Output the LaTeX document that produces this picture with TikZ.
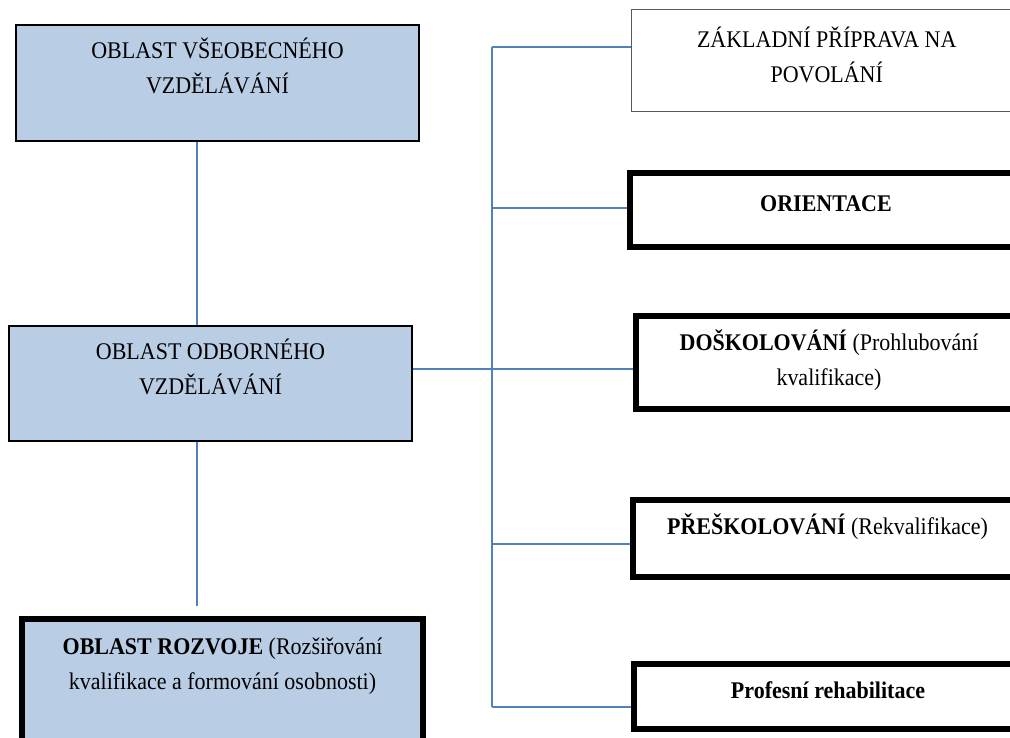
\documentclass[tikz,border=0pt]{standalone}
\usepackage{fontspec}
\setmainfont{Liberation Serif}[FakeStretch=0.92]
\definecolor{areafill}{HTML}{B9CDE5}
\definecolor{linkblue}{HTML}{4F81BD}
\newcommand{\boxlines}[3][7pt]{\parbox[c][#2][t]{9cm}{\centering\vspace*{#1}\strut#3}}
\begin{document}
\begin{tikzpicture}[x=0.025cm, y=-0.025cm,
    font=\fontsize{17}{25}\selectfont,
    area/.style={draw=black, line width=1.4pt, fill=areafill, inner sep=0pt},
    plainbox/.style={draw=black!65, line width=1pt, fill=white, inner sep=0pt},
    stagebox/.style={draw=black, line width=4.3pt, fill=white, inner sep=0pt},
    link/.style={draw=linkblue, line width=1.2pt}]
  \useasboundingbox (0,0) rectangle (1010,737);
  % left column
  \node[area, minimum width=10.075cm, minimum height=2.9cm] (vseob) at (217.5,83)
    {\boxlines[6.5pt]{2.9cm}{OBLAST VŠEOBECNÉHO\\ VZDĚLÁVÁNÍ}};
  \node[area, minimum width=10.075cm, minimum height=2.875cm] (odbor) at (210.5,383.5)
    {\boxlines[6.5pt]{2.875cm}{OBLAST ODBORNÉHO\\ VZDĚLÁVÁNÍ}};
  \node[area, line width=4.3pt, minimum width=10.025cm, minimum height=4.025cm] (rozvoj) at (222.5,699.5)
    {\boxlines[7.5pt]{4.025cm}{\textbf{OBLAST ROZVOJE} (Rozšiřování\\ kvalifikace a formování osobnosti)}};
  % right column
  \node[plainbox, minimum width=9.7625cm, minimum height=2.55cm] (zaklad) at (826.75,60.5)
    {\boxlines[9.5pt]{2.55cm}{ZÁKLADNÍ PŘÍPRAVA NA\\ POVOLÁNÍ}};
  \node[stagebox, minimum width=9.8cm, minimum height=1.85cm] (orient) at (826,210)
    {\boxlines[10pt]{1.85cm}{\textbf{ORIENTACE}}};
  \node[stagebox, minimum width=9.65cm, minimum height=2.325cm] (dosk) at (829,362.5)
    {\boxlines{2.325cm}{\textbf{DOŠKOLOVÁNÍ} (Prohlubování\\ kvalifikace)}};
  \node[stagebox, minimum width=9.725cm, minimum height=1.925cm] (presk) at (827.5,538.5)
    {\boxlines{1.925cm}{\textbf{PŘEŠKOLOVÁNÍ} (Rekvalifikace)}};
  \node[stagebox, minimum width=9.7cm, minimum height=1.625cm] (rehab) at (828,696.5)
    {\boxlines{1.625cm}{\textbf{Profesní rehabilitace}}};
  % connectors
  \coordinate (b1) at (492,47);
  \coordinate (b2) at (492,208);
  \coordinate (b3) at (492,369);
  \coordinate (b4) at (492,544);
  \coordinate (b5) at (492,707);
  \coordinate (lx) at (197,0);
  \draw[link] (b1) -- (b5);
  \draw[link] (b1) -- (b1 -| zaklad.west);
  \draw[link] (b2) -- (b2 -| orient.west);
  \draw[link] (b3 -| odbor.east) -- (b3 -| dosk.west);
  \draw[link] (b4) -- (b4 -| presk.west);
  \draw[link] (b5) -- (b5 -| rehab.west);
  \draw[link] (vseob.south -| lx) -- (odbor.north -| lx);
  \draw[link] (odbor.south -| lx) -- ([yshift=7pt]rozvoj.north -| lx);
\end{tikzpicture}
\end{document}
